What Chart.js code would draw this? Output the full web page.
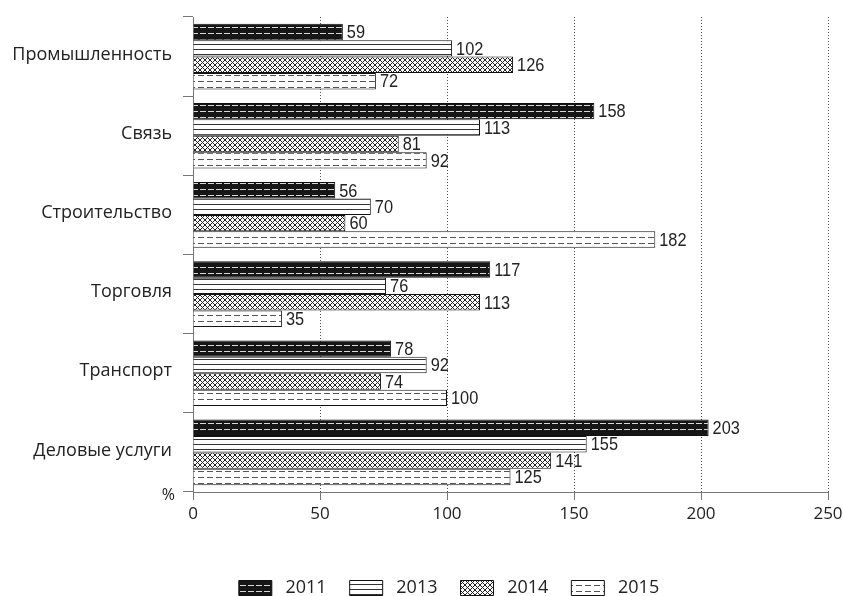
<!DOCTYPE html>
<html lang="ru">
<head>
    <meta charset="UTF-8">
    <title>Отрасли — 2011–2015</title>
    <script src="https://cdn.jsdelivr.net/npm/chart.js"></script>
    <style>
        body { margin: 0; background: #fff; }
        #wrap { width: 843px; height: 596px; }
    </style>
</head>
<body>
<div id="wrap"><canvas id="chart"></canvas></div>
<script>
    // data
    const categories = ['Промышленность', 'Связь', 'Строительство', 'Торговля', 'Транспорт', 'Деловые услуги'];
    const years = ['2011', '2013', '2014', '2015'];
    const values2011 = [59, 158, 56, 117, 78, 203];
    const values2013 = [102, 113, 70, 76, 92, 155];
    const values2014 = [126, 81, 60, 113, 74, 141];
    const values2015 = [72, 92, 182, 35, 100, 125];
    const xTicks = [0, 50, 100, 150, 200, 250];
    const unitLabel = '%';

    // hatch fills
    function makePattern(kind) {
        const c = document.createElement('canvas');
        const g = c.getContext('2d');
        if (kind === 'dark') {
            c.width = 8; c.height = 6;
            g.fillStyle = '#161616'; g.fillRect(0, 0, 8, 6);
            g.fillStyle = '#d8d8d8'; g.fillRect(0, 3, 6, 1);
        } else if (kind === 'lines') {
            c.width = 4; c.height = 5;
            g.fillStyle = '#fff'; g.fillRect(0, 0, 4, 5);
            g.fillStyle = '#333'; g.fillRect(0, 4, 4, 1);
        } else if (kind === 'cross') {
            c.width = 5; c.height = 5;
            g.fillStyle = '#fff'; g.fillRect(0, 0, 5, 5);
            g.strokeStyle = '#222'; g.lineWidth = 1;
            g.beginPath();
            g.moveTo(-1, -1); g.lineTo(6, 6);
            g.moveTo(6, -1); g.lineTo(-1, 6);
            g.stroke();
        } else {
            c.width = 9; c.height = 6;
            g.fillStyle = '#fff'; g.fillRect(0, 0, 9, 6);
            g.fillStyle = '#555'; g.fillRect(0, 3, 6, 1);
        }
        return g.createPattern(c, 'repeat');
    }

    const fills = [makePattern('dark'), makePattern('lines'), makePattern('cross'), makePattern('dashed')];
    const series = [values2011, values2013, values2014, values2015];

    // value at the end of each bar, plus the unit mark under the axis
    const valueLabels = {
        id: 'valueLabels',
        afterLayout(chart) {
            // legend in the source sits a bit right of the page centre
            chart.legend.left += 35;
            chart.legend.right += 35;
        },
        afterDatasetsDraw(chart) {
            const ctx = chart.ctx;
            ctx.save();
            ctx.font = '19px "Liberation Sans", sans-serif';
            ctx.fillStyle = '#222';
            ctx.textBaseline = 'middle';
            ctx.textAlign = 'left';
            chart.data.datasets.forEach((ds, i) => {
                chart.getDatasetMeta(i).data.forEach((bar, j) => {
                    ctx.save();
                    ctx.translate(bar.x + 4, bar.y + 1);
                    ctx.scale(0.86, 1);
                    ctx.fillText(ds.data[j], 0, 0);
                    ctx.restore();
                });
            });
            ctx.font = '16px "Open Sans", sans-serif';
            ctx.textAlign = 'right';
            ctx.fillText(unitLabel, 175, chart.chartArea.bottom + 3);
            ctx.restore();
        }
    };

    const legendDefaults = Chart.defaults.plugins.legend.labels.generateLabels;

    new Chart(document.getElementById('chart'), {
        type: 'bar',
        data: {
            labels: categories,
            datasets: years.map((y, i) => ({
                label: y,
                data: series[i],
                backgroundColor: fills[i],
                borderColor: '#111',
                borderWidth: 1,
                categoryPercentage: 0.83,
                barPercentage: 1.0
            }))
        },
        options: {
            indexAxis: 'y',
            responsive: true,
            maintainAspectRatio: false,
            animation: false,
            layout: { padding: { top: 17, right: 15, left: 0, bottom: -11 } },
            scales: {
                x: {
                    min: 0, max: 250,
                    afterBuildTicks: s => { s.ticks = xTicks.map(v => ({ value: v })); },
                    grid: { color: '#555', tickBorderDash: [1, 0], tickLength: 8, tickColor: '#777' },
                    border: { display: true, color: '#777', dash: [1, 2] },
                    ticks: { color: '#222', font: { family: '"Open Sans", sans-serif', size: 17 }, padding: 4 },
                    afterFit: s => { s.height = 64; s.paddingLeft = 0; s.paddingRight = 0; }
                },
                y: {
                    grid: { drawOnChartArea: false, tickLength: 10, color: '#777', offset: true },
                    border: { display: true, color: '#777' },
                    ticks: { color: '#222', font: { family: '"Open Sans", sans-serif', size: 18 }, padding: 11, labelOffset: -2 },
                    afterFit: s => { s.width = 193; s.paddingTop = 0; s.paddingBottom = 0; }
                }
            },
            plugins: {
                legend: {
                    position: 'bottom',
                    labels: {
                        boxWidth: 33, boxHeight: 15, padding: 23, color: '#222',
                        font: { family: '"Open Sans", sans-serif', size: 18 },
                        generateLabels: chart => legendDefaults(chart).map(l => ({ ...l, text: ' ' + l.text }))
                    }
                },
                tooltip: { enabled: false }
            }
        },
        plugins: [valueLabels]
    });
</script>
</body>
</html>
